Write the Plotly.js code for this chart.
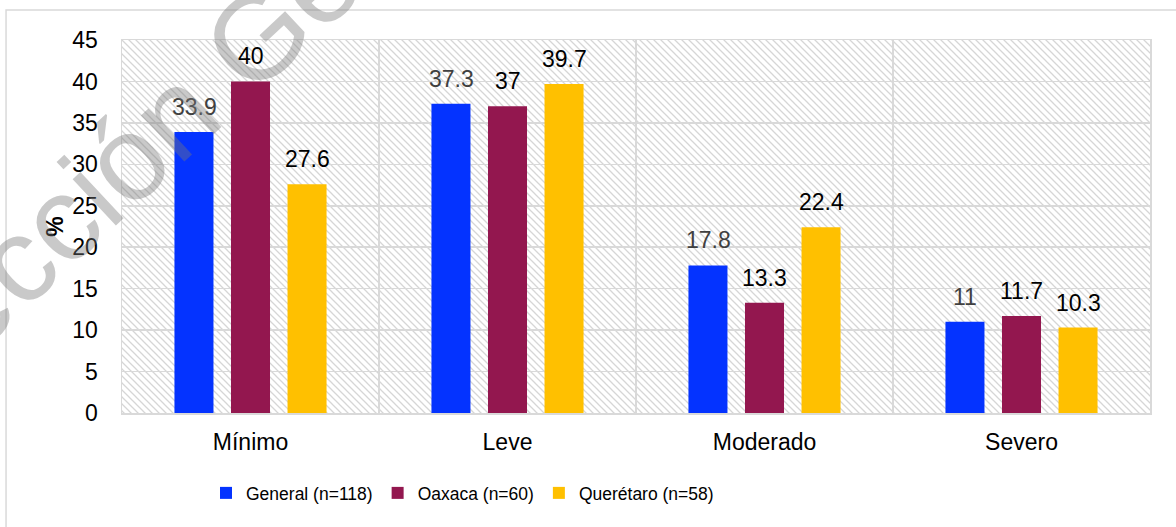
<!DOCTYPE html>
<html>
<head>
<meta charset="utf-8">
<script src="https://cdn.plot.ly/plotly-3.0.1.min.js"></script>
<style>
  html, body { margin: 0; padding: 0; background: #fff; }
  #graph { width: 1176px; height: 527px; }
</style>
</head>
<body>
<div id="graph"></div>
<script>
// values
const categories = ['Mínimo', 'Leve', 'Moderado', 'Severo'];
const general = [33.9, 37.3, 17.8, 11];
const oaxaca = [40, 37, 13.3, 11.7];
const queretaro = [27.6, 39.7, 22.4, 10.3];
const seriesNames = ['General (n=118)', 'Oaxaca (n=60)', 'Querétaro (n=58)'];
const yTickVals = [0, 5, 10, 15, 20, 25, 30, 35, 40, 45];

const colors = ['#0433ff', '#93174f', '#ffc000'];
const labelColors = ['#404040', '#000000', '#000000'];
const series = [general, oaxaca, queretaro];
const FONT = 'Arial, "Liberation Sans", sans-serif';
const GRID = '#d9d9d9';

// hatched plot background (plot area is 1028 x 373 px)
let hatch = "<svg xmlns='http://www.w3.org/2000/svg' width='1028' height='373'>" +
    "<defs><pattern id='p' width='7' height='7' patternUnits='userSpaceOnUse'>" +
    "<path d='M-1,6 L1,8 M0,0 L7,7 M6,-1 L8,1' stroke='#d6d6d6' stroke-width='1.3'/>" +
    "</pattern></defs><rect width='100%' height='100%' fill='url(#p)'/></svg>";

let data = series.map((vals, i) => ({
    type: 'bar',
    x: categories,
    y: vals,
    name: seriesNames[i],
    marker: {color: colors[i]},
    hoverinfo: 'none'
}));

// value labels sit a bit above each bar
let annotations = [];
series.forEach((vals, i) => {
    vals.forEach((v, j) => {
        annotations.push({
            x: categories[j], y: v, xref: 'x', yref: 'y',
            text: String(v),
            showarrow: false,
            xshift: (i - 1) * 56.5,
            yshift: 25,
            font: {family: FONT, size: 23, color: labelColors[i]}
        });
    });
});

// watermark
annotations.push({
    xref: 'paper', yref: 'paper', x: 0.06, y: 0.825,
    xanchor: 'center', yanchor: 'middle',
    text: 'Dirección General',
    textangle: -43,
    showarrow: false,
    font: {family: FONT, size: 120, color: 'rgba(120,120,120,0.4)'}
});

let layout = {
    width: 1176,
    height: 527,
    margin: {l: 122, r: 26, t: 40, b: 114},
    paper_bgcolor: '#ffffff',
    plot_bgcolor: '#ffffff',
    barmode: 'group',
    bargap: 0.34,
    bargroupgap: 0.31,
    showlegend: true,
    legend: {
        orientation: 'h',
        x: 0.0817, y: -0.2145,
        xanchor: 'left', yanchor: 'middle',
        font: {family: FONT, size: 17.5, color: '#000'},
        bgcolor: 'rgba(0,0,0,0)'
    },
    xaxis: {
        type: 'category',
        range: [-0.5, 3.5],
        tickson: 'boundaries',
        showgrid: true,
        gridcolor: GRID,
        gridwidth: 1.5,
        showline: true,
        mirror: true,
        linecolor: GRID,
        linewidth: 1.5,
        ticks: '',
        ticklabelstandoff: 8,
        tickfont: {family: FONT, size: 23, color: '#000'},
        fixedrange: true
    },
    yaxis: {
        range: [0, 45],
        tickvals: yTickVals,
        showgrid: true,
        gridcolor: GRID,
        gridwidth: 1.5,
        zeroline: false,
        showline: true,
        mirror: true,
        linecolor: GRID,
        linewidth: 1.5,
        ticks: '',
        ticklabelstandoff: 18,
        tickfont: {family: FONT, size: 23, color: '#000'},
        title: {text: '<b>%</b>', font: {family: FONT, size: 23, color: '#000'}, standoff: 2},
        fixedrange: true
    },
    images: [{
        source: 'data:image/svg+xml;charset=utf-8,' + encodeURIComponent(hatch),
        xref: 'paper', yref: 'paper',
        x: 0, y: 1, sizex: 1, sizey: 1,
        xanchor: 'left', yanchor: 'top',
        sizing: 'stretch',
        layer: 'below'
    }],
    shapes: [{
        // outer chart frame, runs past the right and bottom edges
        type: 'rect', xref: 'paper', yref: 'paper',
        x0: -0.1128, x1: 1.3, y0: -0.6, y1: 1.0804,
        line: {color: GRID, width: 1.5},
        fillcolor: 'rgba(0,0,0,0)',
        layer: 'below'
    }],
    annotations: annotations
};

Plotly.newPlot('graph', data, layout, {displayModeBar: false, staticPlot: true});
</script>
</body>
</html>
